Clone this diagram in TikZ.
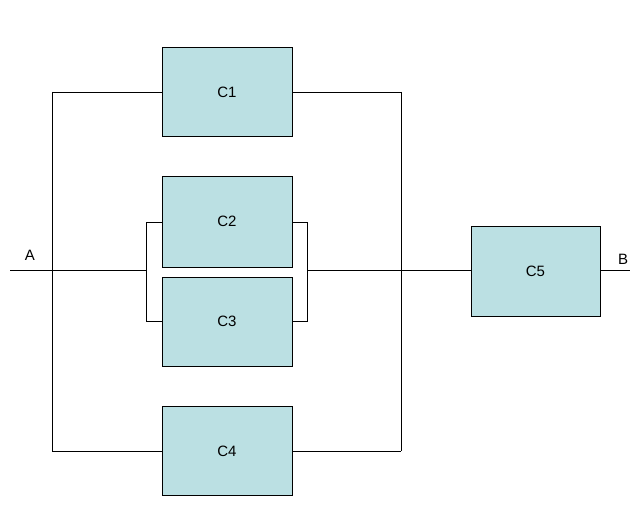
\documentclass[tikz,border=0pt]{standalone}
\usepackage{fontspec}
\setmainfont{Liberation Sans}
\definecolor{boxblue}{RGB}{187,224,227}

\begin{document}
\begin{tikzpicture}[x=1pt, y=-1pt, line width=0.8pt, font=\fontsize{15}{18}\selectfont,
  every node/.style={rectangle, draw, fill=boxblue, minimum width=130pt, minimum height=89pt, inner sep=0pt}]
  \useasboundingbox (0,0) rectangle (641,510);
  \node (c1) at (227, 92) {C1};
  \node (c2) [minimum height=91pt] at (227, 221.5) {C2};
  \node (c3) at (227, 321.5) {C3};
  \node (c4) at (227, 451) {C4};
  \node (c5) [minimum width=129pt, minimum height=90pt] at (535.5, 271) {C5};
  \node (la) [draw=none, fill=none, minimum width=0pt, minimum height=0pt] at (30, 255) {A};
  \node (lb) [draw=none, fill=none, minimum width=0pt, minimum height=0pt] at (623, 259) {B};
  \coordinate (a) at (10, 270);
  \coordinate (b) at (630, 270);
  \coordinate (lt) at (52, 92);
  \coordinate (lbot) at (52, 451);
  \coordinate (rt) at (401, 92);
  \coordinate (rbot) at (401, 451);
  \coordinate (l2) at (146, 222);
  \coordinate (l3) at (146, 321);
  \coordinate (lm) at (146, 270);
  \coordinate (r2) at (307, 222);
  \coordinate (r3) at (307, 321);
  \coordinate (rm) at (307, 270);
  \draw (a) -- (lm);
  \draw (rm) -- (c5.west |- rm);
  \draw (c5.east |- b) -- (b);
  \draw (lt) -- (lbot);
  \draw (rt) -- (rbot);
  \draw (lt) -- (c1.west);
  \draw (c1.east) -- (rt);
  \draw (lbot) -- (c4.west);
  \draw (c4.east) -- (rbot);
  \draw (c2.west |- l2) -- (l2) -- (l3) -- (c3.west |- l3);
  \draw (c2.east |- r2) -- (r2) -- (r3) -- (c3.east |- r3);
\end{tikzpicture}
\end{document}
